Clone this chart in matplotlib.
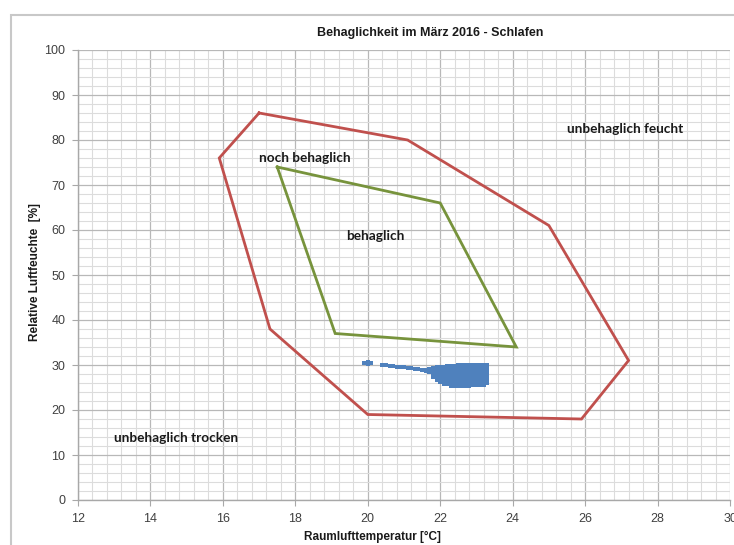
import matplotlib
matplotlib.use("Agg")
import matplotlib.pyplot as plt
from matplotlib.patches import Rectangle
from matplotlib.ticker import MultipleLocator

# Comfort zones (temperature in °C, relative humidity in %)
zone_outer_t = [17.0, 21.1, 25.0, 27.2, 25.9, 20.0, 17.3, 15.9, 17.0]
zone_outer_rh = [86, 80, 61, 31, 18, 19, 38, 76, 86]
zone_inner_t = [17.5, 22.0, 24.1, 19.1, 17.5]
zone_inner_rh = [74, 66, 34, 37, 74]

# Measured room climate, bedroom, March 2016
schlaf_t = [
    19.9, 20.0, 20.0, 20.1, 20.4, 20.5, 20.6, 20.7, 20.8, 20.9, 21.0, 21.1,
    21.2, 21.3, 21.4, 21.5, 21.5, 21.6, 21.6,
    21.7, 21.7, 21.7,
    21.8, 21.8, 21.8, 21.8, 21.8,
    21.9, 21.9, 21.9, 21.9, 21.9, 21.9, 21.9,
    22.0, 22.0, 22.0, 22.0, 22.0, 22.0, 22.0, 22.0,
    22.1, 22.1, 22.1, 22.1, 22.1, 22.1, 22.1, 22.1, 22.1,
    22.2, 22.2, 22.2, 22.2, 22.2, 22.2, 22.2, 22.2, 22.2,
    22.3, 22.3, 22.3, 22.3, 22.3, 22.3, 22.3, 22.3, 22.3, 22.3,
    22.4, 22.4, 22.4, 22.4, 22.4, 22.4, 22.4, 22.4, 22.4, 22.4,
    22.5, 22.5, 22.5, 22.5, 22.5, 22.5, 22.5, 22.5, 22.5, 22.5,
    22.6, 22.6, 22.6, 22.6, 22.6, 22.6, 22.6, 22.6, 22.6, 22.6,
    22.7, 22.7, 22.7, 22.7, 22.7, 22.7, 22.7, 22.7, 22.7, 22.7,
    22.8, 22.8, 22.8, 22.8, 22.8, 22.8, 22.8, 22.8, 22.8, 22.8,
    22.9, 22.9, 22.9, 22.9, 22.9, 22.9, 22.9, 22.9, 22.9, 22.9,
    23.0, 23.0, 23.0, 23.0, 23.0, 23.0, 23.0, 23.0, 23.0, 23.0,
    23.1, 23.1, 23.1, 23.1, 23.1, 23.1, 23.1, 23.1, 23.1, 23.1,
    23.2, 23.2, 23.2, 23.2, 23.2, 23.2, 23.2, 23.2, 23.2, 23.2,
    23.3, 23.3, 23.3, 23.3, 23.3, 23.3, 23.3, 23.3, 23.3,
]
schlaf_rh = [
    30.4, 30.7, 30.2, 30.5, 30.1, 29.9, 29.8, 29.7, 29.6, 29.6, 29.5, 29.4,
    29.3, 29.2, 29.1, 29.0, 28.8, 29.0, 28.7,
    29.2, 28.8, 28.4,
    29.4, 28.9, 28.4, 27.9, 27.4,
    29.5, 29.0, 28.5, 28.0, 27.5, 27.0, 26.6,
    29.6, 29.1, 28.6, 28.1, 27.6, 27.1, 26.6, 26.2,
    29.6, 29.1, 28.6, 28.1, 27.6, 27.1, 26.6, 26.1, 25.8,
    29.7, 29.2, 28.7, 28.2, 27.7, 27.2, 26.7, 26.2, 25.7,
    29.8, 29.3, 28.8, 28.3, 27.8, 27.3, 26.8, 26.3, 25.8, 25.4,
    29.8, 29.3, 28.8, 28.3, 27.8, 27.3, 26.8, 26.3, 25.8, 25.3,
    29.9, 29.4, 28.9, 28.4, 27.9, 27.4, 26.9, 26.4, 25.9, 25.3,
    29.9, 29.4, 28.9, 28.4, 27.9, 27.4, 26.9, 26.4, 25.9, 25.3,
    30.0, 29.5, 29.0, 28.5, 28.0, 27.5, 27.0, 26.5, 26.0, 25.4,
    30.0, 29.5, 29.0, 28.5, 28.0, 27.5, 27.0, 26.5, 26.0, 25.4,
    30.1, 29.6, 29.1, 28.6, 28.1, 27.6, 27.1, 26.6, 26.1, 25.5,
    30.1, 29.6, 29.1, 28.6, 28.1, 27.6, 27.1, 26.6, 26.1, 25.5,
    30.1, 29.6, 29.1, 28.6, 28.1, 27.6, 27.1, 26.6, 26.1, 25.6,
    30.1, 29.6, 29.1, 28.6, 28.1, 27.6, 27.1, 26.6, 26.1, 25.6,
    30.0, 29.5, 29.0, 28.5, 28.0, 27.5, 27.0, 26.5, 26.0,
]

zone_labels = ["unbehaglich feucht", "noch behaglich", "behaglich", "unbehaglich trocken"]
zone_label_t = [25.5, 17.0, 19.4, 13.0]
zone_label_rh = [82.4, 76.0, 58.7, 13.8]

x_ticks = [12, 14, 16, 18, 20, 22, 24, 26, 28, 30]
y_ticks = [0, 10, 20, 30, 40, 50, 60, 70, 80, 90, 100]

W, H = 734, 545
fig = plt.figure(figsize=(W / 100, H / 100), dpi=100)
fig.patch.set_facecolor("white")

# chart area frame (runs past the right and bottom edges)
fig.patches.append(Rectangle((11 / W, -0.05), 1.0, 1.05 - 15 / H, transform=fig.transFigure,
                             fill=False, edgecolor="#c8c8c8", linewidth=1.5))

ax = fig.add_axes([78 / W, 1 - 500 / H, (730 - 78) / W, (500 - 50) / H])
ax.set_xlim(12, 30)
ax.set_ylim(0, 100)
ax.set_xticks(x_ticks)
ax.set_yticks(y_ticks)
ax.xaxis.set_minor_locator(MultipleLocator(0.4))
ax.yaxis.set_minor_locator(MultipleLocator(2))
ax.grid(which="major", color="#b8b8b8", linewidth=0.9)
ax.grid(which="minor", color="#dcdcdc", linewidth=0.8)
ax.set_axisbelow(True)
for s in ["top", "right"]:
    ax.spines[s].set_visible(False)
for s in ["left", "bottom"]:
    ax.spines[s].set_color("#a8a8a8")
    ax.spines[s].set_linewidth(1.0)
ax.tick_params(which="major", length=4, color="#a8a8a8", labelsize=9,
               labelcolor="#404040", pad=5)
ax.tick_params(which="minor", length=0)
for lab in ax.get_xticklabels() + ax.get_yticklabels():
    lab.set_fontfamily("Liberation Sans")

ax.plot(zone_outer_t, zone_outer_rh, color="#c0504d", linewidth=2.0, solid_joinstyle="miter")
ax.plot(zone_inner_t, zone_inner_rh, color="#77933c", linewidth=2.0, solid_joinstyle="miter")
ax.scatter(schlaf_t, schlaf_rh, marker="s", s=7, color="#4f81bd", linewidths=0, zorder=3)

for txt, tx, ty in zip(zone_labels, zone_label_t, zone_label_rh):
    ax.text(tx, ty, txt, fontsize=9.8, fontweight="bold", family="Lato",
            color="#1a1a1a", ha="left", va="center")

fig.text(430 / W, 1 - 33 / H, "Behaglichkeit im März 2016 - Schlafen", ha="center",
         va="center", fontsize=9, fontweight="bold", family="Liberation Sans", color="#1a1a1a")
fig.text(372 / W, 1 - 537 / H, "Raumlufttemperatur [°C]", ha="center", va="center",
         fontsize=8.5, fontweight="bold", family="Liberation Sans", color="#1a1a1a")
fig.text(35 / W, 1 - 272 / H, "Relative Luftfeuchte  [%]", ha="center", va="center",
         rotation=90, fontsize=8.5, fontweight="bold", family="Liberation Sans", color="#1a1a1a")

fig.savefig("out.png", dpi=100)
